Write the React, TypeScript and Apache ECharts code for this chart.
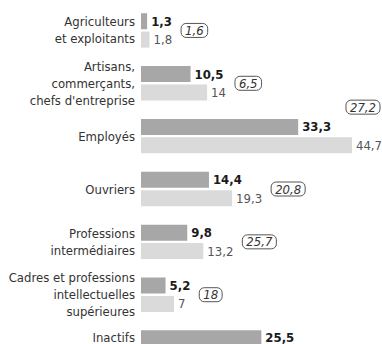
import React, { useEffect, useRef } from "react";
import * as echarts from "echarts";

const categories = [
  "Agriculteurs\net exploitants",
  "Artisans,\ncommerçants,\nchefs d'entreprise",
  "Employés",
  "Ouvriers",
  "Professions\nintermédiaires",
  "Cadres et professions\nintellectuelles\nsupérieures",
  "Inactifs",
];
const valuesDark = [1.3, 10.5, 33.3, 14.4, 9.8, 5.2, 25.5];
const valuesLight = [1.8, 14, 44.7, 19.3, 13.2, 7, 0];
const pillValues: (number | null)[] = [1.6, 6.5, 27.2, 20.8, 25.7, 18, null];

const FONT = "'DejaVu Sans Condensed', 'Liberation Sans Narrow', sans-serif";
const fmt = (v: number) => String(v).replace(".", ",");

let measureCtx: CanvasRenderingContext2D | null = null;
function textWidth(t: string, font: string) {
  if (!measureCtx) measureCtx = document.createElement("canvas").getContext("2d");
  if (!measureCtx) return t.length * 7;
  measureCtx.font = font;
  return measureCtx.measureText(t).width;
}

export default function App() {
  const ref = useRef<HTMLDivElement>(null);
  useEffect(() => {
    if (!ref.current) return;
    const chart = echarts.init(ref.current, undefined, { renderer: "svg" });
    const darkFont = `bold 13px ${FONT}`;
    const lightFont = `13px ${FONT}`;
    const pillFont = `italic 13px ${FONT}`;
    const pillData = categories
      .map((_, i) => [i, valuesDark[i], valuesLight[i], pillValues[i]])
      .filter((d) => d[3] != null);

    chart.setOption({
      animation: false,
      grid: {
        left: 141,
        top: 4,
        width: 236,
        height: 370,
        containLabel: false,
        outerBoundsMode: "none",
      },
      xAxis: {
        type: "value",
        min: 0,
        max: 50,
        show: false,
      },
      yAxis: {
        type: "category",
        data: categories,
        inverse: true,
        axisLine: { show: false },
        axisTick: { show: false },
        splitLine: { show: false },
        axisLabel: {
          margin: 6,
          color: "#333",
          fontFamily: FONT,
          fontSize: 13,
          lineHeight: 17,
          align: "right",
          formatter: (v: string, i: number) =>
            valuesLight[i] === 0 ? `{up|${v}}` : v,
          rich: {
            up: {
              color: "#333",
              fontFamily: FONT,
              fontSize: 13,
              lineHeight: 17,
              padding: [0, 0, 20, 0],
            },
          },
        },
      },
      series: [
        {
          type: "bar",
          data: valuesDark.map((v, i) =>
            valuesLight[i] === 0 ? { value: v, label: { offset: [0, -1] } } : v
          ),
          barWidth: 16,
          barGap: "15%",
          itemStyle: { color: "#a7a7a7" },
          label: {
            show: true,
            position: "right",
            distance: 4,
            formatter: (p: any) => fmt(p.value),
            color: "#1a1a1a",
            fontFamily: FONT,
            fontSize: 13,
            fontWeight: "bold",
          },
        },
        {
          type: "bar",
          data: valuesLight,
          barWidth: 16,
          itemStyle: { color: "#dadada" },
          label: {
            show: true,
            position: "right",
            distance: 4,
            formatter: (p: any) => (p.value === 0 ? "" : fmt(p.value)),
            color: "#555",
            fontFamily: FONT,
            fontSize: 13,
          },
        },
        {
          type: "custom",
          data: pillData,
          encode: { y: 0, x: 1 },
          clip: false,
          renderItem: (params: any, api: any) => {
            const idx = api.value(0);
            const d = api.value(1);
            const l = api.value(2);
            const p = api.value(3);
            const c = api.coord([0, idx]);
            const darkEnd = api.coord([d, idx])[0] + 4 + textWidth(fmt(d), darkFont);
            const lightEnd = api.coord([l, idx])[0] + 4 + textWidth(fmt(l), lightFont);
            const txt = fmt(p);
            const w = textWidth(txt, pillFont) + 8;
            let x = Math.max(darkEnd, lightEnd) + 9;
            let y = c[1];
            if (x + w > api.getWidth() - 1) {
              x = api.getWidth() - 2 - w;
              y = c[1] - 29;
            }
            return {
              type: "text",
              x,
              y,
              style: {
                text: txt,
                font: pillFont,
                fill: "#333",
                align: "left",
                verticalAlign: "middle",
                borderColor: "#555",
                borderWidth: 1,
                borderRadius: 5,
                padding: [1, 4, 0, 4],
              },
            };
          },
        },
      ],
    });
    return () => chart.dispose();
  }, []);
  return (
    <div
      ref={ref}
      style={{ position: "absolute", left: 0, top: 0, width: 382, height: 344, background: "#fff" }}
    />
  );
}
